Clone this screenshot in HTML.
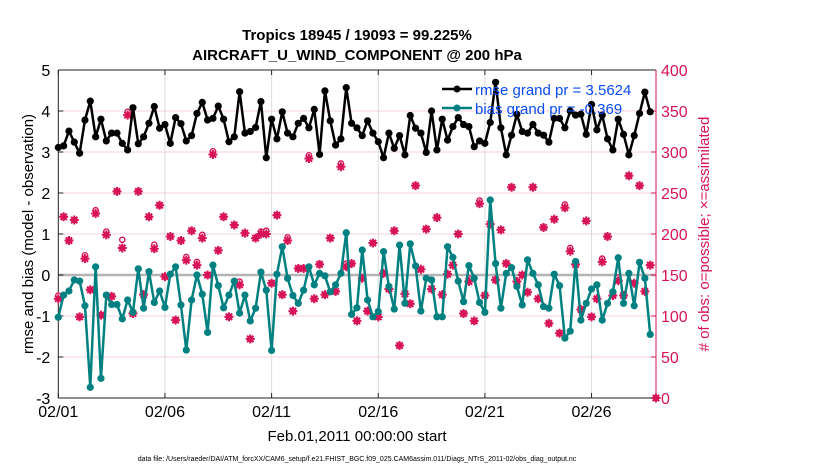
<!DOCTYPE html>
<html><head><meta charset="utf-8"><style>
html,body{margin:0;padding:0;background:#fff;}
svg{display:block;font-family:"Liberation Sans",Arial,sans-serif;}
</style></head><body>
<svg id="chart" width="830" height="470" viewBox="0 0 830 470">
<g id="grid"></g>
<g id="axes"></g>
<g id="series"></g>
<text x="357" y="40" text-anchor="middle" font-size="15" font-weight="bold">Tropics 18945 / 19093 = 99.225%</text>
<text x="357" y="60" text-anchor="middle" font-size="15" font-weight="bold">AIRCRAFT_U_WIND_COMPONENT @ 200 hPa</text>
<text transform="translate(33,234) rotate(-90)" text-anchor="middle" font-size="15">rmse and bias (model - observation)</text>
<text transform="translate(709,234) rotate(-90)" text-anchor="middle" font-size="15" fill="#d81459"># of obs: o=possible; ×=assimilated</text>
<text x="357" y="441" text-anchor="middle" font-size="15">Feb.01,2011 00:00:00 start</text>
<text x="357" y="461" text-anchor="middle" font-size="7">data file: /Users/raeder/DAI/ATM_forcXX/CAM6_setup/f.e21.FHIST_BGC.f09_025.CAM6assim.011/Diags_NTrS_2011-02/obs_diag_output.nc</text>
<g>
<line x1="442" y1="89" x2="472" y2="89" stroke="#000" stroke-width="2.5"/>
<circle cx="457" cy="89" r="3.5" fill="#000"/>
<text x="475" y="95" font-size="15" fill="#0a4cf5">rmse grand pr = 3.5624</text>
<line x1="442" y1="108" x2="472" y2="108" stroke="#008080" stroke-width="2.5"/>
<circle cx="457" cy="108" r="3.5" fill="#008080"/>
<text x="475" y="114" font-size="15" fill="#0a4cf5">bias grand pr = -0.369</text>
</g>
</svg>
<script>
const xTickLabels = ["02/01","02/06","02/11","02/16","02/21","02/26"];
const xTickDays = [0,5,10,15,20,25];
const leftTicks = [-3,-2,-1,0,1,2,3,4,5];
const rightTicks = [0,50,100,150,200,250,300,350,400];
const rmse = [3.11,3.15,3.51,3.24,2.97,3.78,4.24,3.37,3.80,3.27,3.46,3.46,3.21,3.05,4.08,3.20,3.37,3.70,4.11,3.58,3.67,3.21,3.84,3.69,3.27,3.40,3.94,4.21,3.78,
3.82,4.12,3.80,3.25,3.37,4.47,3.46,3.50,3.60,4.23,2.86,3.80,3.32,3.98,3.46,3.37,3.70,3.82,3.59,4.04,2.94,4.49,3.76,3.17,3.32,4.57,3.70,3.59,
3.40,3.76,3.46,3.25,2.86,3.46,3.09,3.40,2.93,3.89,3.58,3.46,2.99,4.00,3.05,3.80,3.29,3.62,3.84,3.67,3.62,3.13,3.27,3.21,3.72,4.70,3.59,2.93,
3.41,3.92,3.50,3.46,3.67,3.46,3.41,3.24,3.82,3.82,3.59,4.00,3.90,3.92,3.43,4.16,3.54,3.90,3.32,3.05,3.80,3.43,2.93,3.40,3.94,4.46,3.98];
const bias = [-1.03,-0.49,-0.39,-0.12,-0.15,-0.75,-2.74,0.20,-2.52,-0.49,-0.72,-0.72,-1.07,-0.61,-0.91,0.15,-0.81,0.08,-0.67,-0.39,-0.79,0.02,0.20,-0.73,-1.83,-0.61,0.00,-0.47,-1.40,
0.24,-0.26,-0.80,-0.49,-0.15,-0.93,-0.49,-1.12,-0.81,0.07,-0.37,-1.84,0.02,0.69,-0.08,-0.50,-0.69,-0.37,0.20,-0.24,0.04,-0.02,-0.41,-0.24,0.04,1.03,-0.96,-0.80,
0.61,-0.61,-1.02,-0.89,0.57,-0.28,-0.83,0.73,-0.69,0.76,0.22,-0.88,-0.08,-0.12,-1.02,-1.02,0.69,0.43,-0.15,-0.65,0.23,-0.08,-0.67,-0.91,1.83,0.28,-0.81,0.04,
0.18,-0.28,-0.73,0.37,0.04,-0.24,-0.77,-0.81,0.02,-0.26,-1.54,-1.37,0.33,-1.10,-0.69,-0.34,-0.24,-1.10,-0.69,-0.41,0.42,-0.69,0.04,-0.75,0.31,-0.08,-1.45];
const nAssim = [121,221,192,217,99,170,132,225,101,199,124,252,183,345,103,252,126,221,182,235,148,197,95,192,168,204,162,195,150,
297,180,221,99,211,138,201,72,195,200,200,140,223,126,192,106,158,158,292,121,163,126,195,130,282,160,164,94,
146,106,189,99,152,133,204,64,127,115,259,157,206,133,220,126,151,162,200,103,142,94,237,125,212,144,205,164,
257,142,150,129,257,121,208,91,218,79,232,179,163,108,216,99,121,166,197,125,143,125,271,140,259,130,162,0];
const nPossible = [125,221,192,217,99,174,132,229,101,203,124,252,193,349,103,252,126,221,187,235,148,197,95,192,172,204,166,199,150,
301,180,221,99,211,142,201,72,195,203,204,140,223,126,196,106,158,158,296,121,163,126,195,130,286,164,164,94,
146,106,189,99,152,133,204,64,127,115,259,157,206,133,220,126,151,162,200,103,146,94,241,125,212,144,205,164,
257,142,150,129,257,121,208,91,218,79,236,183,163,108,216,99,121,170,197,125,147,125,271,140,259,130,162,0];

const X0=58.3, X1=656, Y0=398, Y1=70;
const PXD=21.33;
function xDay(d){return X0+d*PXD;}
function xIdx(i){return xDay(i*0.25);}
function yL(v){return Y0-(v+3)/8*(Y0-Y1);}
function yR(c){return Y0-c/400*(Y0-Y1);}
const NS="http://www.w3.org/2000/svg";
function mk(tag,attrs,parent){const e=document.createElementNS(NS,tag);for(const k in attrs)e.setAttribute(k,attrs[k]);parent.appendChild(e);return e;}
const grid=document.getElementById('grid'),axes=document.getElementById('axes'),ser=document.getElementById('series');

leftTicks.forEach(v=>{
  if(v!==-3&&v!==5&&v!==0){const l=mk('line',{x1:X0,x2:X1,y1:yL(v),y2:yL(v),stroke:'#f4cfe0','stroke-width':1},grid);
  
  }
  const t=mk('text',{x:X0-8,y:yL(v)+6,'text-anchor':'end','font-size':16},axes);t.textContent=v;
  
  
  mk('line',{x1:X0,x2:X0+5,y1:yL(v),y2:yL(v),stroke:'#222'},axes);
});
rightTicks.forEach(c=>{
  const t=mk('text',{x:X1+5,y:yR(c)+6,'font-size':16,fill:'#d81459'},axes);t.textContent=c;
  
  
  mk('line',{x1:X1-5,x2:X1,y1:yR(c),y2:yR(c),stroke:'#d81459'},axes);
});
xTickDays.forEach((d,k)=>{
  if(d>0){const l=mk('line',{x1:xDay(d),x2:xDay(d),y1:Y1,y2:Y0,stroke:'#dcdcdc'},grid);
  
  }
  mk('line',{x1:xDay(d),x2:xDay(d),y1:Y0,y2:Y0-5,stroke:'#222'},axes);
  mk('line',{x1:xDay(d),x2:xDay(d),y1:Y1,y2:Y1+5,stroke:'#222'},axes);
  const t=mk('text',{x:xDay(d),y:417,'text-anchor':'middle','font-size':16},axes);t.textContent=xTickLabels[k];
  
  
});
const zl=mk('line',{x1:X0,x2:X1,y1:yL(0),y2:yL(0),stroke:'#b4b4b4','stroke-width':2.5},grid);


mk('line',{x1:X0,x2:X1,y1:Y1,y2:Y1,stroke:'#222'},axes);
mk('line',{x1:X0,x2:X1,y1:Y0,y2:Y0,stroke:'#222'},axes);
mk('line',{x1:X0,x2:X0,y1:Y1,y2:Y0,stroke:'#222'},axes);
mk('line',{x1:X1,x2:X1,y1:Y1,y2:Y0,stroke:'#d81459'},axes);

function obsX(i){return i<112?xIdx(i):X1;}
nPossible.forEach((c,i)=>{
  const g=mk('circle',{cx:obsX(i),cy:yR(c),r:2.6,fill:'#fff',stroke:'#d81459','stroke-width':1.4},ser);
  
  
});
nAssim.forEach((c,i)=>{
  const x=obsX(i),y=yR(c);
  const g=mk('g',{},ser);
  
  
  mk('path',{d:`M${x-4.5},${y}L${x+4.5},${y}M${x},${y-4.5}L${x},${y+4.5}M${x-3.2},${y-3.2}L${x+3.2},${y+3.2}M${x-3.2},${y+3.2}L${x+3.2},${y-3.2}`,stroke:'#d81459','stroke-width':2},g);
  mk('circle',{cx:x,cy:y,r:3,fill:'#d81459'},g);
});
function line(arr,color,name){
  const p=mk('polyline',{points:arr.map((v,i)=>xIdx(i)+','+yL(v)).join(' '),fill:'none',stroke:color,'stroke-width':2.5,'stroke-linejoin':'round'},ser);
  
  
  arr.forEach((v,i)=>{
    const c=mk('circle',{cx:xIdx(i),cy:yL(v),r:3.6,fill:color},ser);
    
    
  });
}
line(bias,'#008080','bias');
line(rmse,'#000000','rmse');
</script>
</body></html>
